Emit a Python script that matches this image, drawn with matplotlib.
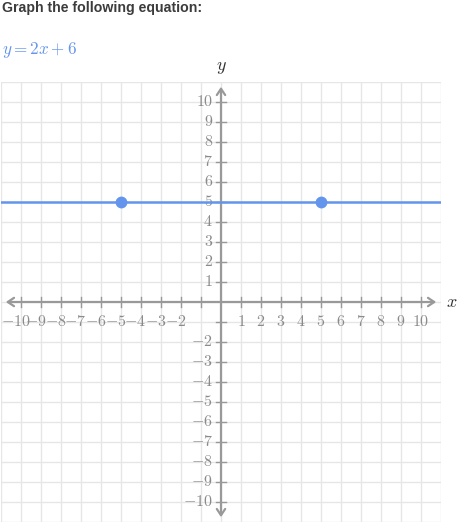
import numpy as np
import matplotlib
matplotlib.use('Agg')
import matplotlib.pyplot as plt

plt.rcParams['mathtext.fontset'] = 'cm'

# Graph data
title = 'Graph the following equation:'
equation = r'$y = 2x + 6$'
x_ticks = [t for t in range(-10, 11) if t not in (0, -1)]
y_ticks = [t for t in range(-10, 11) if t not in (0, -1)]
tick_marks = [t for t in range(-10, 11) if t != 0]
points_x = [-5, 5]
points_y = [5, 5]
lim = 11

fig = plt.figure(figsize=(4.57, 5.23), dpi=100)
W, H = 457, 523
ax = fig.add_axes([1 / W, 1 / H, 440 / W, 440 / H])
ax.set_xlim(-lim, lim)
ax.set_ylim(-lim, lim)
ax.axis('off')

grid_col = '#e6e6e6'
axis_col = '#999999'
label_col = '#8a8a8a'
blue = '#6495ed'

# grid
for g in range(-lim, lim + 1):
    ax.axvline(g, color=grid_col, lw=1, zorder=0)
    ax.axhline(g, color=grid_col, lw=1, zorder=0)

# axes with chevron arrows at both ends
arrow = dict(arrowstyle='<->,head_length=0.45,head_width=0.3', color=axis_col, lw=1.6)
ax.annotate('', xy=(-lim + 0.1, 0), xytext=(lim - 0.1, 0), arrowprops=arrow, zorder=2)
ax.annotate('', xy=(0, -lim + 0.1), xytext=(0, lim - 0.1), arrowprops=arrow, zorder=2)

# tick marks and labels
tk = 0.25
for t in tick_marks:
    ax.plot([t, t], [-tk, tk], color=axis_col, lw=1, zorder=2)
    ax.plot([-tk, tk], [t, t], color=axis_col, lw=1, zorder=2)
for t in x_ticks:
    off = -0.28 if t < 0 else 0
    ax.text(t + off, -0.6, '$%d$' % t, ha='center', va='top', fontsize=11.5, color=label_col)
for t in y_ticks:
    ax.text(-0.4, t, '$%d$' % t, ha='right', va='center', fontsize=11.5, color=label_col)

# the line through the points, extended across the grid
slope = (points_y[1] - points_y[0]) / (points_x[1] - points_x[0])
xs = np.array([-lim, lim])
ys = points_y[0] + slope * (xs - points_x[0])
ax.plot(xs, ys, color=blue, lw=1.8, zorder=3)
ax.plot(points_x, points_y, 'o', color=blue, ms=7.5, zorder=4)

# axis names
fig.text(221 / W, 1 - 67 / H, '$y$', ha='center', va='center', fontsize=13, color='#333333')
fig.text(452 / W, 1 - 302 / H, '$x$', ha='center', va='center', fontsize=13, color='#333333')

# header text
fig.text(2 / W, 1 - 8 / H, title, ha='left', va='center', fontsize=10.2,
         fontweight='bold', family='Liberation Sans', color='#3c3c3c')
fig.text(2 / W, 1 - 50 / H, equation, ha='left', va='center', fontsize=12.3, color=blue)

fig.savefig('out.png', dpi=100)
